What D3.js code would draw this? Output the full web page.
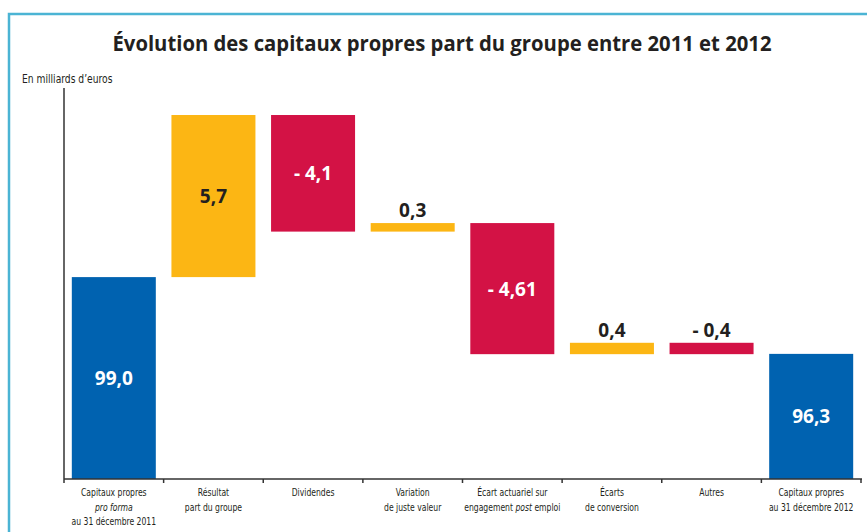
<!DOCTYPE html>
<html>
<head>
<meta charset="utf-8">
<script src="https://cdn.jsdelivr.net/npm/d3@7"></script>
<style>
  body { margin: 0; background: #fff; }
  svg { display: block; }
</style>
</head>
<body>
<div id="chart"></div>
<script>
// ── Data ────────────────────────────────────────────────────
const categories = [
  ['Capitaux propres', '*pro forma*', 'au 31 décembre 2011'],
  ['Résultat', 'part du groupe'],
  ['Dividendes'],
  ['Variation', 'de juste valeur'],
  ['Écart actuariel sur', 'engagement *post* emploi'],
  ['Écarts', 'de conversion'],
  ['Autres'],
  ['Capitaux propres', 'au 31 décembre 2012']
];
const values      = [99.0, 5.7, -4.1, 0.3, -4.61, 0.4, -0.4, 96.3];
const kinds       = ['total', 'delta', 'delta', 'delta', 'delta', 'delta', 'delta', 'total'];
const valueLabels = ['99,0', '5,7', '- 4,1', '0,3', '- 4,61', '0,4', '- 0,4', '96,3'];
const yDomain     = [91.9, 105.65];   // truncated axis, as in the original

const title = 'Évolution des capitaux propres part du groupe entre 2011 et 2012';
const unit  = 'En milliards d\u2019euros';

// ── Layout ──────────────────────────────────────────────────
const width = 867, height = 532;
const plot = { left: 64, right: 861, top: 88, bottom: 479 };
const barW = 84;
const squeeze = 0.775;   // fake a condensed face for the small text

const colors = { total: '#0062b0', up: '#fcb614', down: '#d31245', ink: '#231f20' };
const narrow = "'Liberation Sans Narrow', 'DejaVu Sans Condensed', sans-serif";

const svg = d3.select('#chart').append('svg')
  .attr('width', width).attr('height', height);

// frame
svg.append('rect')
  .attr('x', 9).attr('y', 14)
  .attr('width', 900).attr('height', 600)
  .attr('fill', 'none')
  .attr('stroke', '#4bb4d4')
  .attr('stroke-width', 2.5);

// title
svg.append('text')
  .attr('x', 442).attr('y', 51)
  .attr('text-anchor', 'middle')
  .attr('font-family', "'Open Sans', sans-serif")
  .attr('font-weight', 700)
  .attr('font-size', '21px')
  .attr('fill', colors.ink)
  .attr('textLength', 659)
  .attr('lengthAdjust', 'spacingAndGlyphs')
  .text(title);

svg.append('text')
  .attr('transform', `translate(22,83) scale(0.85,1)`)
  .attr('font-family', narrow)
  .attr('font-size', '12px')
  .attr('fill', colors.ink)
  .text(unit);

// ── Scales ──────────────────────────────────────────────────
const x = d3.scaleBand()
  .domain(d3.range(categories.length))
  .range([plot.left, plot.right])
  .padding(0);

const y = d3.scaleLinear()
  .domain(yDomain)
  .range([plot.bottom, plot.top]);

// waterfall steps
let running = 0;
const steps = values.map((v, i) => {
  let y0, y1, fill;
  if (kinds[i] === 'total') {
    y0 = yDomain[0]; y1 = v; running = v; fill = colors.total;
  } else {
    y0 = running; y1 = running + v; running = y1;
    fill = v >= 0 ? colors.up : colors.down;
  }
  return { i, v, lo: Math.min(y0, y1), hi: Math.max(y0, y1), fill, label: valueLabels[i] };
});

// ── Bars ────────────────────────────────────────────────────
const bars = svg.append('g');
bars.selectAll('rect')
  .data(steps)
  .join('rect')
  .attr('x', d => x(d.i) + (x.bandwidth() - barW) / 2)
  .attr('width', barW)
  .attr('y', d => y(d.hi))
  .attr('height', d => y(d.lo) - y(d.hi))
  .attr('fill', d => d.fill);

// value labels: inside tall bars, above thin ones
bars.selectAll('text')
  .data(steps)
  .join('text')
  .attr('x', d => x(d.i) + x.bandwidth() / 2)
  .attr('y', d => {
    const h = y(d.lo) - y(d.hi);
    return h > 30 ? (y(d.lo) + y(d.hi)) / 2 + 7 : y(d.hi) - 6;
  })
  .attr('text-anchor', 'middle')
  .attr('font-family', "'Open Sans', sans-serif")
  .attr('font-weight', 700)
  .attr('font-size', '19px')
  .attr('fill', d => {
    const h = y(d.lo) - y(d.hi);
    if (h <= 30) return colors.ink;
    return d.fill === colors.up ? colors.ink : '#fff';
  })
  .text(d => d.label);

// ── Axes ────────────────────────────────────────────────────
const axis = svg.append('g').attr('stroke', '#333').attr('stroke-width', 1.5);

axis.append('line')
  .attr('x1', plot.left).attr('x2', plot.left)
  .attr('y1', plot.top).attr('y2', plot.bottom);

axis.append('line')
  .attr('x1', plot.left).attr('x2', plot.right + 1)
  .attr('y1', plot.bottom).attr('y2', plot.bottom);

const edges = d3.range(categories.length).map(i => x(i)).concat([plot.right]);
axis.selectAll('.tick')
  .data(edges)
  .join('line')
  .attr('class', 'tick')
  .attr('x1', d => d).attr('x2', d => d)
  .attr('y1', plot.bottom).attr('y2', plot.bottom + 4);

// category labels, *word* = italic
const cat = svg.append('g')
  .attr('font-family', narrow)
  .attr('font-size', '11px')
  .attr('fill', colors.ink)
  .attr('text-anchor', 'middle');

categories.forEach((lines, i) => {
  lines.forEach((line, j) => {
    const cx = x(i) + x.bandwidth() / 2;
    const t = cat.append('text')
      .attr('transform', `translate(${cx},${496 + j * 14.5}) scale(${squeeze},1)`);
    line.split(/(\*[^*]+\*)/).filter(s => s).forEach(part => {
      const it = part.startsWith('*');
      t.append('tspan')
        .attr('font-style', it ? 'italic' : null)
        .text(it ? part.slice(1, -1) : part);
    });
  });
});
</script>
</body>
</html>
